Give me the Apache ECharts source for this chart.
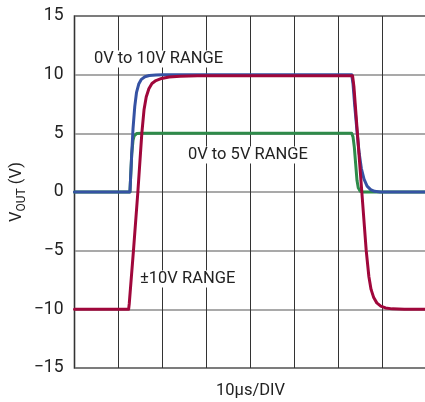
<!DOCTYPE html>
<html><head><meta charset="utf-8">
<script src="https://cdn.jsdelivr.net/npm/echarts@6/dist/echarts.min.js"></script>
<style>html,body{margin:0;padding:0;background:#fff}#c{width:425px;height:402px}</style>
</head><body><div id="c"></div>
<script>
const FONT = '"Liberation Sans Narrow", "Roboto", sans-serif';
const yTicks = [-15, -10, -5, 0, 5, 10, 15];
const xDivs = [0, 10, 20, 30, 40, 50, 60, 70, 80];
// time in µs, volts
const blueX = [0, 12.6, 12.75, 13.0, 13.3, 13.7, 14.1, 14.6, 15.2, 16.0, 17.0, 18.5, 20.0, 63.0, 63.3, 63.7, 64.2, 64.7, 65.2, 65.8, 66.5, 67.3, 68.2, 69.5, 80];
const blueY = [0, 0, 1.2, 3.2, 5.4, 7.3, 8.5, 9.2, 9.6, 9.82, 9.93, 9.98, 10, 10, 9.2, 7.3, 5.2, 3.3, 2.0, 1.1, 0.5, 0.2, 0.06, 0, 0];
const redX = [0, 12.3, 12.45, 13.4, 14.4, 15.3, 15.8, 16.3, 16.9, 17.6, 18.5, 19.8, 21.5, 24.0, 28.0, 63.2, 63.5, 63.9, 64.3, 65.3, 66.3, 66.9, 67.4, 68.0, 68.7, 69.6, 70.7, 72.2, 75, 80];
const redY = [-10, -10, -9.5, -5, 0, 5, 7.0, 8.1, 8.8, 9.25, 9.5, 9.68, 9.8, 9.87, 9.9, 9.9, 9.0, 7.0, 5.0, 0, -5, -7.2, -8.3, -9.0, -9.45, -9.72, -9.88, -9.96, -10, -10];
const greenX = [0, 12.6, 12.75, 13.0, 13.3, 13.55, 13.8, 14.1, 14.5, 15.2, 63.0, 63.3, 63.6, 63.9, 64.2, 64.5, 64.9, 65.4, 80];
const greenY = [0, 0, 1.2, 3.2, 4.4, 4.78, 4.92, 4.98, 5, 5, 5, 4.7, 3.8, 2.4, 1.0, 0.35, 0.08, 0, 0];
const labels = ['0V to 10V RANGE', '0V to 5V RANGE', '\u00b110V RANGE'];
const xTitle = '10\u00b5s/DIV';

const zip = (xs, ys) => xs.map((x, i) => [x, ys[i]]);
const chart = echarts.init(document.getElementById('c'));
const lineSeries = (name, xs, ys, color, z) => ({
  name, type: 'line', data: zip(xs, ys), showSymbol: false, smooth: false, z,
  lineStyle: { color, width: 3, join: 'round', cap: 'round' }, animation: false
});
chart.setOption({
  animation: false,
  grid: { left: 74.5, top: 16, width: 352, height: 352, show: true, borderColor: '#111', borderWidth: 1.5,
    backgroundColor: 'transparent', containLabel: false, outerBoundsMode: 'none' },
  xAxis: {
    type: 'value', min: 0, max: 80, interval: 10,
    axisLine: { show: false }, axisTick: { show: false }, axisLabel: { show: false },
    splitLine: { show: true, lineStyle: { color: '#333', width: 1 } },
    name: xTitle, nameLocation: 'middle', nameGap: 14,
    nameTextStyle: { fontFamily: FONT, fontSize: 16.5, color: '#222' }
  },
  yAxis: {
    type: 'value', min: -15, max: 15, interval: 5,
    axisLine: { show: false }, axisTick: { show: false },
    axisLabel: { fontFamily: FONT, fontSize: 17.5, color: '#222', margin: 11,
      formatter: v => (v < 0 ? '\u2212' + Math.abs(v) : String(v)) },
    splitLine: { show: true, lineStyle: { color: '#8c8c8c', width: 1.5 } }
  },
  graphic: [
    { type: 'text', x: 17, y: 192, rotation: Math.PI / 2, z: 10,
      style: { text: '{a|V}{b|OUT}{a| (V)}', align: 'center', verticalAlign: 'middle',
        rich: { a: { fontFamily: FONT, fontSize: 16.5, fill: '#222' }, b: { fontFamily: FONT, fontSize: 12, fill: '#222', padding: [9, 0, 0, 0] } } } },
    { type: 'text', x: 93, y: 59, z: 10, style: { text: labels[0], fontFamily: FONT, fontSize: 16.5, fill: '#222', verticalAlign: 'middle', backgroundColor: '#fff', padding: [0, 1] } },
    { type: 'text', x: 187, y: 155, z: 10, style: { text: labels[1], fontFamily: FONT, fontSize: 16.5, fill: '#222', verticalAlign: 'middle', backgroundColor: '#fff', padding: [0, 1] } },
    { type: 'text', x: 139, y: 279, z: 10, style: { text: labels[2], fontFamily: FONT, fontSize: 16.5, fill: '#222', verticalAlign: 'middle', backgroundColor: '#fff', padding: [0, 1] } }
  ],
  series: [
    lineSeries('green', greenX, greenY, '#2e8b4a', 3),
    lineSeries('blue', blueX, blueY, '#3552a3', 4),
    lineSeries('red', redX, redY, '#a0073b', 5)
  ]
});
</script></body></html>
